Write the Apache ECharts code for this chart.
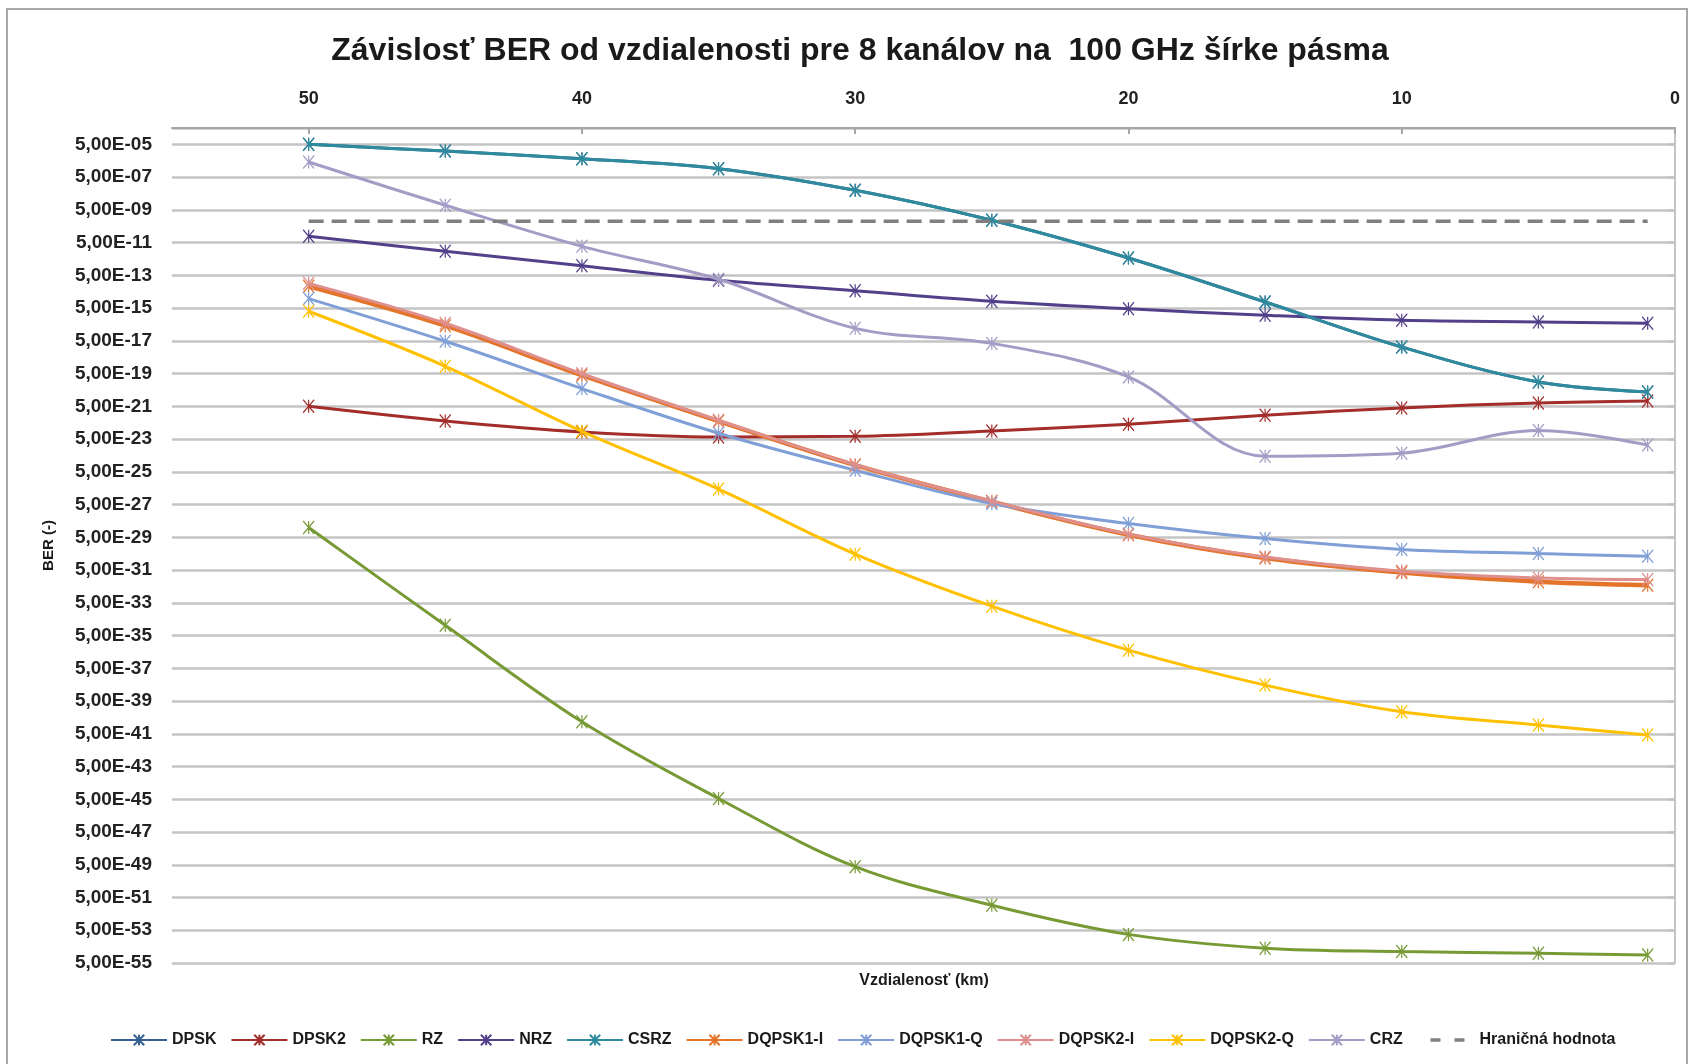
<!DOCTYPE html>
<html>
<head>
<meta charset="utf-8">
<script src="https://cdn.jsdelivr.net/npm/echarts@6/dist/echarts.min.js"></script>
<style>
  html, body { margin: 0; padding: 0; background: #ffffff; }
  #chart { width: 1690px; height: 1064px; }
</style>
</head>
<body>
<div id="chart"></div>
<script>
// Distance of each measurement (km)
const distances = [50, 45, 40, 35, 30, 25, 20, 15, 10, 5, 1];

// BER per modulation format at each distance
const berDPSK    = [5.0e-5, 1.95e-5, 6.7e-6, 1.64e-6, 7.8e-8, 1.15e-9, 5.7e-12, 1.18e-14, 2.1e-17, 1.55e-19, 3.8e-20];
const berDPSK2   = [5.0e-21, 6.4e-22, 1.37e-22, 6.8e-23, 7.4e-23, 1.58e-22, 4.0e-22, 1.43e-21, 4.0e-21, 8.1e-21, 1.07e-20];
const berRZ      = [2.0e-28, 2.1e-34, 2.7e-40, 5.6e-45, 3.8e-49, 1.7e-51, 2.8e-53, 4.0e-54, 2.5e-54, 1.95e-54, 1.55e-54];
const berNRZ     = [1.21e-10, 1.47e-11, 1.91e-12, 2.49e-13, 5.7e-14, 1.3e-14, 4.53e-15, 1.82e-15, 9.0e-16, 7.1e-16, 5.9e-16];
const berCSRZ    = [5.0e-5, 1.95e-5, 6.7e-6, 1.64e-6, 7.8e-8, 1.15e-9, 5.7e-12, 1.18e-14, 2.1e-17, 1.55e-19, 3.8e-20];
const berDQPSK1I = [1.07e-13, 4.2e-16, 4.0e-19, 6.2e-22, 1.27e-24, 7.4e-27, 7.2e-29, 2.7e-30, 3.5e-31, 9.8e-32, 6.0e-32];
const berDQPSK1Q = [1.9e-14, 4.7e-17, 6.1e-20, 1.14e-22, 6.3e-25, 5.8e-27, 3.5e-28, 4.2e-29, 9.1e-30, 5.1e-30, 3.5e-30];
const berDQPSK2I = [1.63e-13, 5.9e-16, 4.9e-19, 7.1e-22, 1.35e-24, 8.1e-27, 7.8e-29, 3.1e-30, 4.3e-31, 1.66e-31, 1.33e-31];
const berDQPSK2Q = [3.2e-15, 1.4e-18, 1.5e-22, 4.4e-26, 4.7e-30, 3.1e-33, 6.4e-36, 4.7e-38, 1.1e-39, 1.7e-40, 4.2e-41];
const berCRZ     = [4.2e-6, 9.5e-9, 2.95e-11, 2.9e-13, 2.9e-16, 3.5e-17, 3.1e-19, 4.5e-24, 6.9e-24, 1.7e-22, 2.2e-23];
const berLimit   = [1e-9, 1e-9, 1e-9, 1e-9, 1e-9, 1e-9, 1e-9, 1e-9, 1e-9, 1e-9, 1e-9];

const LIMIT_NAME = 'Hraničná hodnota';
const seriesNames = ['DPSK', 'DPSK2', 'RZ', 'NRZ', 'CSRZ', 'DQPSK1-I', 'DQPSK1-Q', 'DQPSK2-I', 'DQPSK2-Q', 'CRZ', LIMIT_NAME];
const seriesValues = [berDPSK, berDPSK2, berRZ, berNRZ, berCSRZ, berDQPSK1I, berDQPSK1Q, berDQPSK2I, berDQPSK2Q, berCRZ, berLimit];
const seriesColors = ['#376092', '#a32d2b', '#779a35', '#52408a', '#2e8b9e', '#e4742a', '#7f9fd6', '#df8f8c', '#ffc000', '#a59cc6', '#7f7f7f'];
const seriesWidths = [3, 3, 3, 3, 3, 4.5, 3, 3, 3, 3, 3.5];

const xTicks = [0, 10, 20, 30, 40, 50];

// Vertical scale: decades of BER relative to 5 (so grid lines fall on 5,00E-xx)
const toAxis = v => Math.log10(v / 5);

const FONT = '"Liberation Sans", Arial, sans-serif';
const starMark = 'path://M0,0L10,12M10,0L0,12M5,0L5,12';

const series = seriesNames.map((name, i) => {
  const isLimit = name === LIMIT_NAME;
  return {
    name: name,
    type: 'line',
    smooth: isLimit ? false : 0.35,
    data: distances.map((d, k) => [d, toAxis(seriesValues[i][k])]),
    symbol: starMark,
    symbolSize: [11, 13],
    showSymbol: !isLimit,
    lineStyle: {
      color: seriesColors[i],
      width: seriesWidths[i],
      type: isLimit ? [15, 8] : 'solid'
    },
    itemStyle: {
      color: seriesColors[i],
      borderColor: seriesColors[i],
      borderWidth: 1.3
    },
    emphasis: { disabled: true },
    z: 2 + i
  };
});

// Legend entries; the limit line is shown as two short dashes
const legendData = seriesNames.map(name => name === LIMIT_NAME
  ? {
      name: name,
      itemStyle: { color: 'rgba(0,0,0,0)', borderColor: 'rgba(0,0,0,0)', borderWidth: 0 },
      lineStyle: { type: [10, 14], dashOffset: 12, width: 3.5 }
    }
  : { name: name });

const chart = echarts.init(document.getElementById('chart'), null, { renderer: 'canvas' });
chart.setOption({
  animation: false,
  backgroundColor: '#ffffff',
  title: {
    text: 'Závislosť BER od vzdialenosti pre 8 kanálov na  100 GHz šírke pásma',
    left: 855,
    top: 30,
    textAlign: 'center',
    textStyle: { fontFamily: FONT, fontSize: 32, fontWeight: 'bold', color: '#1a1a1a' }
  },
  graphic: [
    {
      type: 'rect',
      shape: { x: 7, y: 9, width: 1680, height: 1100 },
      style: { fill: 'none', stroke: '#a8a8a8', lineWidth: 2 },
      silent: true, z: -1
    },
    {
      type: 'text',
      x: 924, y: 981,
      style: {
        text: 'Vzdialenosť (km)',
        fontFamily: FONT, fontSize: 16, fontWeight: 'bold', fill: '#1a1a1a',
        align: 'center', verticalAlign: 'middle'
      },
      silent: true
    }
  ],
  legend: {
    data: legendData,
    left: 105,
    top: 1027,
    itemWidth: 56,
    itemHeight: 13,
    itemGap: 14,
    textStyle: { fontFamily: FONT, fontSize: 16, fontWeight: 'bold', color: '#1a1a1a' }
  },
  grid: { left: 172, right: 15, top: 128, bottom: 101, containLabel: false },
  xAxis: {
    type: 'value',
    position: 'top',
    inverse: true,
    min: 0,
    max: 55,
    interval: 10,
    axisLine: { show: true, lineStyle: { color: '#a6a6a6', width: 2 } },
    axisTick: { show: true, inside: true, length: 6, lineStyle: { color: '#a6a6a6', width: 2 } },
    axisLabel: {
      showMaxLabel: false,
      margin: 20,
      fontFamily: FONT, fontSize: 18, fontWeight: 'bold', color: '#222',
      formatter: v => (xTicks.indexOf(v) >= 0 ? String(v) : '')
    },
    splitLine: { show: false }
  },
  yAxis: {
    type: 'value',
    min: -55,
    max: -4,
    interval: 2,
    name: 'BER (-)',
    nameLocation: 'middle',
    nameRotate: 90,
    nameGap: 116,
    nameTextStyle: { fontFamily: FONT, fontSize: 15, fontWeight: 'bold', color: '#1a1a1a' },
    axisLine: { show: true, lineStyle: { color: '#b0b0b0', width: 1.5 } },
    axisTick: { show: true, length: 7, lineStyle: { color: '#c4c4c4', width: 2.5 } },
    axisLabel: {
      showMaxLabel: false,
      margin: 20,
      fontFamily: FONT, fontSize: 19, fontWeight: 'bold', color: '#222',
      formatter: v => '5,00E-' + String(Math.round(-v)).padStart(2, '0')
    },
    splitLine: { show: true, lineStyle: { color: '#c4c4c4', width: 2.5 } }
  },
  series: series
});
</script>
</body>
</html>
